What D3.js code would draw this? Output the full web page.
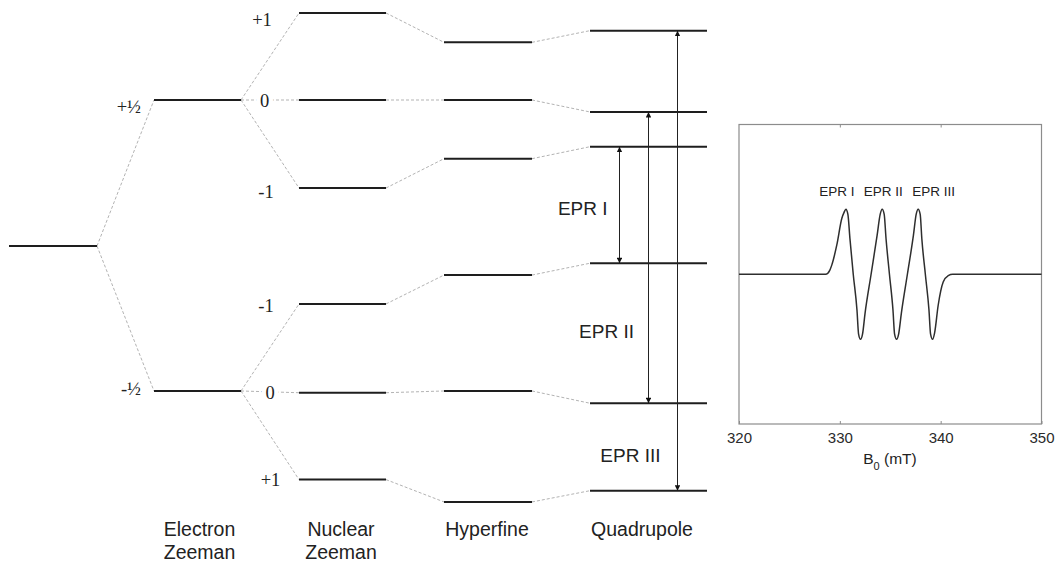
<!DOCTYPE html>
<html>
<head>
<meta charset="utf-8">
<script src="https://cdn.jsdelivr.net/npm/d3@7"></script>
<style>
  body { margin: 0; background: #fff; }
  .lbl { font-family: "Liberation Sans", Arial, sans-serif; fill: #222; }
  .qn { font-family: "Liberation Serif", "Times New Roman", serif; fill: #222; }
</style>
</head>
<body>
<div id="chart"></div>
<script>
// energy levels (arbitrary units)
var groundLevel = [0];
var electronZeeman = [10.0, -9.93];
var electronLabels = ["+½", "-½"];
var nuclearZeeman = [15.96, 10.0, 3.97, -3.97, -10.05, -16.0];
var nuclearLabels = ["+1", "0", "-1", "-1", "0", "+1"];
var hyperfine = [13.95, 10.0, 5.98, -1.99, -9.93, -17.53];
var quadrupole = [14.75, 9.18, 6.8, -1.18, -10.77, -16.76];
var stageNames = [["Electron", "Zeeman"], ["Nuclear", "Zeeman"], ["Hyperfine"], ["Quadrupole"]];

// EPR transitions (upper / lower quadrupole level index)
var transitionNames = ["EPR I", "EPR II", "EPR III"];
var transitionUpper = [2, 1, 0];
var transitionLower = [3, 4, 5];

// spectrum (B0 in mT, derivative signal)
var fieldMT = [320, 328.6, 329.0, 329.2, 329.7, 330.2, 330.42, 330.6, 330.8, 331.0, 331.33, 331.7, 331.86, 332.05, 332.25,
               332.5, 333.1, 333.7, 334.0, 334.2, 334.4, 334.58, 334.92, 335.27, 335.43, 335.63, 335.83, 336.1, 336.7,
               337.3, 337.57, 337.77, 337.97, 338.13, 338.48, 338.84, 339.0, 339.2, 339.4, 339.75, 340.25, 340.75, 341.2, 350];
var signal = [0, 0, 0.06, 0.14, 0.45, 0.86, 0.95, 1.0, 0.92, 0.55, 0, -0.55, -0.92, -1.0, -0.92,
              -0.6, 0, 0.6, 0.92, 1.0, 0.92, 0.55, 0, -0.55, -0.92, -1.0, -0.92, -0.6, 0,
              0.6, 0.92, 1.0, 0.92, 0.55, 0, -0.55, -0.92, -1.0, -0.9, -0.48, -0.12, -0.02, 0, 0];
var fieldTicks = [320, 330, 340, 350];
var peakLabelsMT = [329.7, 334.3, 339.3];

var svg = d3.select("#chart").append("svg")
    .attr("width", 1058)
    .attr("height", 562);

svg.append("defs").append("marker")
    .attr("id", "head")
    .attr("viewBox", "0 0 6 6")
    .attr("refX", 6)
    .attr("refY", 3)
    .attr("markerUnits", "userSpaceOnUse")
    .attr("markerWidth", 6)
    .attr("markerHeight", 5.5)
    .attr("orient", "auto-start-reverse")
    .append("path")
    .attr("d", "M0,0 L6,3 L0,6 Z")
    .attr("fill", "#111");

// ---------- level diagram ----------
var yE = d3.scaleLinear().domain([-20, 20]).range([538, -46]);

var cols = {
  ground: [9, 97],
  ez: [154, 241],
  nz: [299, 386],
  hf: [444, 532],
  q: [590, 707]
};

var diag = svg.append("g");

function connect(fromCol, fromVals, toCol, toVals, parent) {
  diag.selectAll(null)
    .data(toVals)
    .enter()
    .append("line")
    .attr("x1", fromCol[1])
    .attr("y1", (d, i) => yE(fromVals[parent(i)]))
    .attr("x2", toCol[0])
    .attr("y2", d => yE(d))
    .attr("stroke", "#b3b3b3")
    .attr("stroke-width", 1)
    .attr("stroke-dasharray", "3,2");
}

connect(cols.ground, groundLevel, cols.ez, electronZeeman, i => 0);
connect(cols.ez, electronZeeman, cols.nz, nuclearZeeman, i => Math.floor(i / 3));
connect(cols.nz, nuclearZeeman, cols.hf, hyperfine, i => i);
connect(cols.hf, hyperfine, cols.q, quadrupole, i => i);

function levels(col, vals) {
  diag.selectAll(null)
    .data(vals)
    .enter()
    .append("line")
    .attr("x1", col[0])
    .attr("x2", col[1])
    .attr("y1", d => yE(d))
    .attr("y2", d => yE(d))
    .attr("stroke", "#1e1e1e")
    .attr("stroke-width", 2);
}

levels(cols.ground, groundLevel);
levels(cols.ez, electronZeeman);
levels(cols.nz, nuclearZeeman);
levels(cols.hf, hyperfine);
levels(cols.q, quadrupole);

// quantum number labels
var ezShift = [13.3, 4];
diag.selectAll(null)
  .data(electronZeeman)
  .enter()
  .append("text")
  .attr("class", "qn")
  .attr("x", 141)
  .attr("y", (d, i) => yE(d) + ezShift[i])
  .attr("text-anchor", "end")
  .style("font-size", "18.5px")
  .text((d, i) => electronLabels[i]);

var nzShift = [13.4, 7, 9.6, 8.3, 6.3, 6];
var nzX = [262, 264.5, 266, 266, 270, 270.5];
diag.selectAll(null)
  .data(nuclearZeeman)
  .enter()
  .append("text")
  .attr("class", "qn")
  .attr("x", (d, i) => nzX[i])
  .attr("y", (d, i) => yE(d) + nzShift[i])
  .attr("text-anchor", "middle")
  .style("font-size", "18.5px")
  .style("paint-order", "stroke")
  .style("stroke", "#fff")
  .style("stroke-width", 9)
  .text((d, i) => nuclearLabels[i]);

// transitions
var arrowX = [619.5, 648.5, 677.5];
var labelE = [2.12, -6.32, -14.77];
transitionNames.forEach(function(name, i) {
  diag.append("line")
    .attr("x1", arrowX[i])
    .attr("x2", arrowX[i])
    .attr("y1", yE(quadrupole[transitionUpper[i]]))
    .attr("y2", yE(quadrupole[transitionLower[i]]))
    .attr("stroke", "#222")
    .attr("stroke-width", 1)
    .attr("marker-start", "url(#head)")
    .attr("marker-end", "url(#head)");

  diag.append("text")
    .attr("class", "lbl")
    .attr("x", arrowX[i] - 12 - i * 2.5)
    .attr("y", yE(labelE[i]))
    .attr("text-anchor", "end")
    .style("font-size", "19px")
    .text(name);
});

// stage names
var stageX = [199.5, 341, 487, 642];
stageNames.forEach(function(rows, i) {
  rows.forEach(function(r, j) {
    diag.append("text")
      .attr("class", "lbl")
      .attr("x", stageX[i])
      .attr("y", 535.5 + j * 23)
      .attr("text-anchor", "middle")
      .style("font-size", "19.5px")
      .text(r);
  });
});

// ---------- spectrum panel ----------
var x = d3.scaleLinear().domain([320, 350]).range([739, 1041.5]);
var y = d3.scaleLinear().domain([-2.3, 2.3]).range([424, 124.5]);

var panel = svg.append("g");

panel.append("rect")
  .attr("x", x(320))
  .attr("y", y(2.3))
  .attr("width", x(350) - x(320))
  .attr("height", y(-2.3) - y(2.3))
  .attr("fill", "none")
  .attr("stroke", "#8c8c8c")
  .attr("stroke-width", 1.2);

var bottomAxis = d3.axisBottom(x)
  .tickValues(fieldTicks)
  .tickSizeInner(-3)
  .tickSizeOuter(0)
  .tickPadding(8);

var gb = panel.append("g")
  .attr("transform", "translate(0," + y(-2.3) + ")")
  .call(bottomAxis);
gb.select(".domain").remove();
gb.selectAll(".tick line").attr("stroke", "#8c8c8c");
gb.selectAll(".tick text")
  .attr("fill", "#2a2a2a")
  .style("font-family", "Liberation Sans, Arial, sans-serif")
  .style("font-size", "15px");

var topAxis = d3.axisTop(x)
  .tickValues([330, 340])
  .tickSizeInner(-3)
  .tickSizeOuter(0)
  .tickFormat("");
var gt = panel.append("g")
  .attr("transform", "translate(0," + y(2.3) + ")")
  .call(topAxis);
gt.select(".domain").remove();
gt.selectAll(".tick line").attr("stroke", "#8c8c8c");

var spectrum = fieldMT.map((b, i) => [b, signal[i]]);
var drawLine = d3.line()
  .x(d => x(d[0]))
  .y(d => y(d[1]))
  .curve(d3.curveMonotoneX);

panel.append("path")
  .datum(spectrum)
  .attr("d", drawLine)
  .attr("fill", "none")
  .attr("stroke", "#2e2e2e")
  .attr("stroke-width", 1.5);

panel.selectAll(null)
  .data(peakLabelsMT)
  .enter()
  .append("text")
  .attr("class", "lbl")
  .attr("x", d => x(d))
  .attr("y", 196)
  .attr("text-anchor", "middle")
  .style("font-size", "13.5px")
  .text((d, i) => transitionNames[i]);

var axisLabel = panel.append("text")
  .attr("class", "lbl")
  .attr("x", 890)
  .attr("y", 464)
  .attr("text-anchor", "middle")
  .style("font-size", "15.5px");
axisLabel.append("tspan").text("B");
axisLabel.append("tspan").attr("dy", 6).style("font-size", "11px").text("0");
axisLabel.append("tspan").attr("dy", -6).text(" (mT)");
</script>
</body>
</html>
